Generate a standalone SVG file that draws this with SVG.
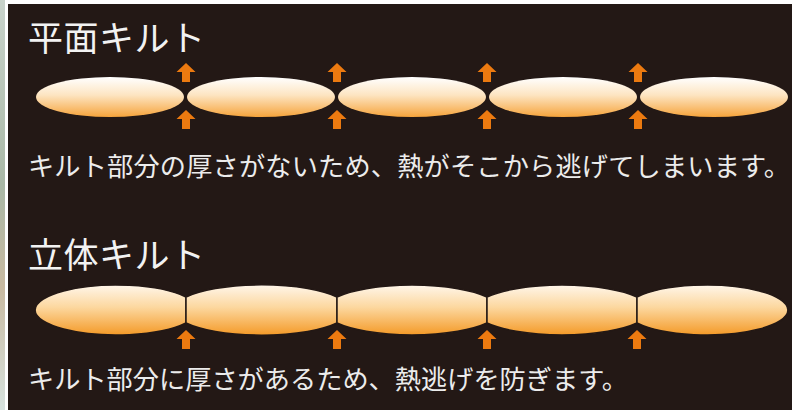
<svg xmlns="http://www.w3.org/2000/svg" xmlns:xlink="http://www.w3.org/1999/xlink" width="792" height="410" viewBox="0 0 792 410">
<defs>
<style>
.title{font-family:"Noto Sans CJK JP","Noto Sans",sans-serif;font-size:35px;fill:#f2f2f2;}
.body{font-family:"Noto Sans CJK JP","Noto Sans",sans-serif;font-size:26.2px;fill:#ececec;}
.flat{fill:url(#gFlat);}
.puffy{fill:url(#gPuffy);stroke:#231815;stroke-width:1.5;}
.arrow{fill:#ec7a10;}
</style>
<linearGradient id="gFlat" x1="0" y1="0" x2="0" y2="1">
<stop offset="0" stop-color="#ffffff"/>
<stop offset="0.45" stop-color="#fde5c2"/>
<stop offset="1" stop-color="#f6a43c"/>
</linearGradient>
<linearGradient id="gPuffy" x1="0" y1="0" x2="0" y2="1">
<stop offset="0" stop-color="#fff6ea"/>
<stop offset="0.45" stop-color="#fcd79e"/>
<stop offset="1" stop-color="#f49a28"/>
</linearGradient>
<linearGradient id="gPhoto" x1="0" y1="0" x2="0" y2="1">
<stop offset="0" stop-color="#c9d3cb"/>
<stop offset="0.45" stop-color="#a9b8a6"/>
<stop offset="0.7" stop-color="#c8b9a0"/>
<stop offset="1" stop-color="#d7e2de"/>
</linearGradient>
<path id="arrowUp" d="M0 0 L9.5 9 L4 9 L4 19 L-4 19 L-4 9 L-9.5 9 Z"/>
</defs>

<rect x="0" y="0" width="792" height="410" fill="#ffffff"/>
<rect x="0" y="0" width="5" height="410" fill="url(#gPhoto)"/>
<rect x="8" y="4" width="784" height="406" fill="#231815"/>

<g id="title-flat"><text class="title" x="28" y="51" textLength="177" lengthAdjust="spacing">平面キルト</text></g>

<g id="flat-1"><ellipse class="flat" cx="110" cy="97" rx="74" ry="20"/></g>
<g id="flat-2"><ellipse class="flat" cx="261" cy="97" rx="74" ry="20"/></g>
<g id="flat-3"><ellipse class="flat" cx="412" cy="97" rx="74" ry="20"/></g>
<g id="flat-4"><ellipse class="flat" cx="563" cy="97" rx="74" ry="20"/></g>
<g id="flat-5"><ellipse class="flat" cx="714" cy="97" rx="74" ry="20"/></g>

<g id="text-flat"><text class="body" x="28" y="176" textLength="762" lengthAdjust="spacing">キルト部分の厚さがないため、熱がそこから逃げてしまいます。</text></g>

<g id="title-puffy"><text class="title" x="28" y="268" textLength="177" lengthAdjust="spacing">立体キルト</text></g>

<g id="puffy-1"><path class="puffy" d="M186 297 A81.4 25 0 1 0 186 323 Z"/></g>
<g id="puffy-2"><path class="puffy" d="M186 297 A88 25 0 0 1 337 297 L337 323 A88 25 0 0 1 186 323 Z"/></g>
<g id="puffy-3"><path class="puffy" d="M337 297 A88 25 0 0 1 487 297 L487 323 A88 25 0 0 1 337 323 Z"/></g>
<g id="puffy-4"><path class="puffy" d="M487 297 A88 25 0 0 1 637 297 L637 323 A88 25 0 0 1 487 323 Z"/></g>
<g id="puffy-5"><path class="puffy" d="M637 297 A81.4 25 0 1 1 637 323 Z"/></g>

<g id="text-puffy"><text class="body" x="28" y="389" textLength="600" lengthAdjust="spacing">キルト部分に厚さがあるため、熱逃げを防ぎます。</text></g>

<g id="connectors" class="arrow">
<use xlink:href="#arrowUp" x="186" y="63"/>
<use xlink:href="#arrowUp" x="337" y="63"/>
<use xlink:href="#arrowUp" x="487" y="63"/>
<use xlink:href="#arrowUp" x="638" y="63"/>
<use xlink:href="#arrowUp" x="186" y="110"/>
<use xlink:href="#arrowUp" x="337" y="110"/>
<use xlink:href="#arrowUp" x="487" y="110"/>
<use xlink:href="#arrowUp" x="638" y="110"/>
<use xlink:href="#arrowUp" x="186" y="330"/>
<use xlink:href="#arrowUp" x="337" y="330"/>
<use xlink:href="#arrowUp" x="487" y="330"/>
<use xlink:href="#arrowUp" x="637" y="330"/>
</g>
</svg>
